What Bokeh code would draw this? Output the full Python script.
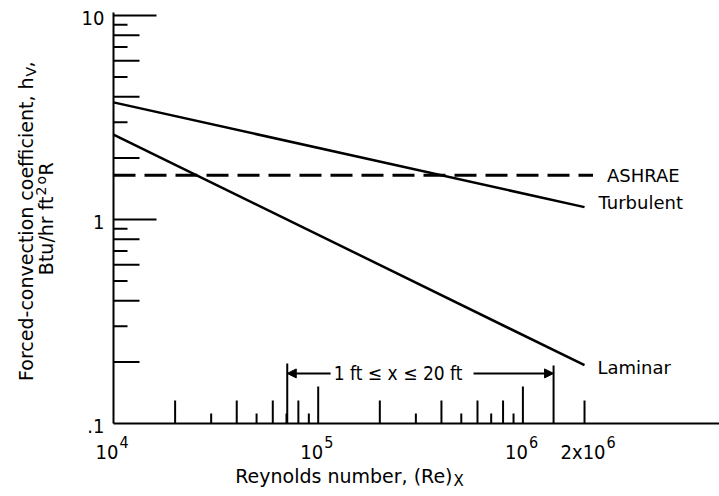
import math
from bokeh.plotting import figure
from bokeh.models import Label, Arrow, NormalHead, ColumnDataSource
from bokeh.embed import file_html
from bokeh.resources import INLINE

# ---------------- data ----------------
RE_LINE = [1.0e4, 2.0e6]
H_TURBULENT = [3.75, 1.15]
H_LAMINAR = [2.61, 0.193]
RE_ASHRAE = [1.0e4, 2.2e6]
H_ASHRAE = [1.65, 1.65]

X_TICKS = [2e4, 3e4, 4e4, 5e4, 6e4, 7e4, 8e4, 9e4,
           1e5, 2e5, 3e5, 4e5, 5e5, 6e5, 7e5, 8e5, 9e5,
           1e6, 2e6]
Y_TICKS = [0.2, 0.3, 0.4, 0.5, 0.6, 0.7, 0.8, 0.9,
           1, 2, 3, 4, 5, 6, 7, 8, 9, 10]

X_LABEL_VALUES = [1e4, 1e5, 1e6, 2e6]
X_LABEL_BASE = ["10", "10", "10", "2x10"]
X_LABEL_EXP = ["4", "5", "6", "6"]
Y_LABEL_VALUES = [10, 1, 0.1]
Y_LABEL_TEXT = ["10", "1", ".1"]

RE_PER_FT = 7.06e4
X_FT = [1, 20]
RANGE_TEXT = "1 ft \u2264 x \u2264 20 ft"
ARROW_H = 0.176
ARROW_TAIL = [1.15e5, 5.74e5]

# axes extents
X_MIN, X_AXIS_END = 1e4, 9.1e6
Y_MIN, Y_AXIS_TOP = 0.1, 10.35

W, H = 719, 496
LEFT, BOTTOM = 113, 73          # pixel position of the axes corner
DEC_X, DEC_Y = 204.7, 204.0     # pixels per decade

FONT = "'DejaVu Sans'"
CFONT = "'DejaVu Sans Condensed', 'DejaVu Sans'"

x_range = (10 ** (math.log10(X_MIN) - LEFT / DEC_X),
           10 ** (math.log10(X_MIN) + (W - LEFT) / DEC_X))
y_range = (10 ** (math.log10(Y_MIN) - BOTTOM / DEC_Y),
           10 ** (math.log10(Y_MIN) + (H - BOTTOM) / DEC_Y))

p = figure(width=W, height=H, x_axis_type="log", y_axis_type="log",
           x_range=x_range, y_range=y_range,
           output_backend="svg", toolbar_location=None, min_border=0)
p.outline_line_color = None
p.grid.visible = False
p.xaxis.visible = False
p.yaxis.visible = False
p.background_fill_color = "white"
p.border_fill_color = "white"

# axis lines
p.line([X_MIN, X_AXIS_END], [Y_MIN, Y_MIN], line_width=2, color="black")
p.line([X_MIN, X_MIN], [Y_MIN, Y_AXIS_TOP], line_width=2, color="black")


def tick_len(v, long_, mid, short):
    m = round(v / 10 ** math.floor(math.log10(v) + 1e-9))
    if m == 1:
        return long_
    return mid if m % 2 == 0 else short


# x-axis ticks (pointing up from the axis)
xs = ColumnDataSource(dict(x=X_TICKS, y=[Y_MIN] * len(X_TICKS),
                           l=[tick_len(v, 37, 23, 10) for v in X_TICKS]))
p.ray(x="x", y="y", length="l", length_units="screen", angle=math.pi / 2,
      line_width=2, color="black", source=xs)
# y-axis ticks (pointing right from the axis)
ys = ColumnDataSource(dict(x=[X_MIN] * len(Y_TICKS), y=Y_TICKS,
                           l=[tick_len(v, 43, 26, 14) for v in Y_TICKS]))
p.ray(x="x", y="y", length="l", length_units="screen", angle=0,
      line_width=2, color="black", source=ys)

# curves
p.line(RE_LINE, H_TURBULENT, line_width=2.5, color="black")
p.line(RE_LINE, H_LAMINAR, line_width=2.5, color="black")
p.line(RE_ASHRAE, H_ASHRAE, line_width=3, color="black", line_dash="22 9")

# range markers
marks = [RE_PER_FT * f for f in X_FT]
p.ray(x=marks, y=[Y_MIN, Y_MIN], length=[60, 58], length_units="screen",
      angle=math.pi / 2, line_width=2, color="black")
for tail, tip in zip(ARROW_TAIL, marks):
    p.add_layout(Arrow(end=NormalHead(size=9, fill_color="black", line_color="black"),
                       x_start=tail, y_start=ARROW_H, x_end=tip, y_end=ARROW_H,
                       line_width=2, line_color="black"))
p.add_layout(Label(x=math.sqrt(ARROW_TAIL[0] * ARROW_TAIL[1]), y=ARROW_H,
                   text=RANGE_TEXT, text_align="center", text_baseline="middle",
                   x_offset=-4, text_font=CFONT, text_font_size="19px", text_color="black"))

# curve labels
p.add_layout(Label(x=RE_LINE[-1], y=H_TURBULENT[-1], text="Turbulent", x_offset=14,
                   y_offset=5, text_baseline="middle", text_font=FONT,
                   text_font_size="18px", text_color="black"))
p.add_layout(Label(x=RE_ASHRAE[-1], y=H_ASHRAE[-1], text="ASHRAE", x_offset=14,
                   y_offset=0, text_baseline="middle", text_font=FONT,
                   text_font_size="18px", text_color="black"))
p.add_layout(Label(x=RE_LINE[-1], y=H_LAMINAR[-1], text="Laminar", x_offset=13,
                   y_offset=-2, text_baseline="middle", text_font=FONT,
                   text_font_size="18px", text_color="black"))

# tick labels
for v, t in zip(Y_LABEL_VALUES, Y_LABEL_TEXT):
    p.add_layout(Label(x=X_MIN, y=v, text=t, text_align="right", text_baseline="middle",
                       x_offset=-9, y_offset=-2, text_font=CFONT, text_font_size="20px",
                       text_color="black"))
for v, b, e in zip(X_LABEL_VALUES, X_LABEL_BASE, X_LABEL_EXP):
    off = 5 + 8 * (len(b) - 2)
    p.add_layout(Label(x=v, y=Y_MIN, text=b, text_align="right", text_baseline="middle",
                       x_offset=off, y_offset=-28, text_font=CFONT, text_font_size="20px",
                       text_color="black"))
    p.add_layout(Label(x=v, y=Y_MIN, text=e, text_align="left", text_baseline="middle",
                       x_offset=off + 1, y_offset=-18, text_font=CFONT, text_font_size="16px",
                       text_color="black"))


def title(text, x, y, size, align, angle=0.0):
    p.add_layout(Label(x=x, y=y, x_units="screen", y_units="screen", angle=angle,
                       text=text, text_align=align, text_baseline="middle",
                       text_font=FONT, text_font_size=size, text_color="black"))


# x-axis title
title("Reynolds number, (Re)", 452, 21, "19px", "right")
title("X", 453, 16, "15px", "left")

# y-axis title (rotated)
rot = math.pi / 2
title("Forced-convection coefficient, h", 25, 419, "19px", "right", rot)
title("V", 30, 420, "14px", "left", rot)
title(",", 25, 429, "19px", "left", rot)
title("Btu/hr ft", 45, 300, "19px", "right", rot)
title("2", 40, 301, "14px", "left", rot)
title("o", 40, 312, "14px", "left", rot)
title("R", 45, 321, "19px", "left", rot)

open("out.html", "w").write(file_html(p, INLINE))
